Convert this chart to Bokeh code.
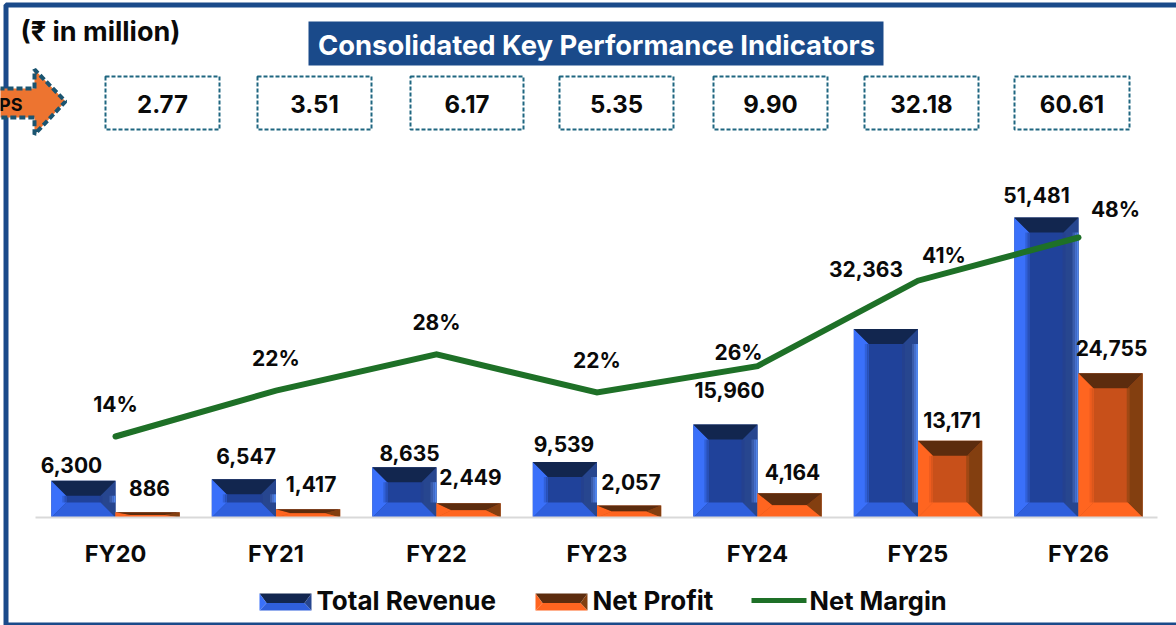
from bokeh.plotting import figure
from bokeh.models import Range1d, FixedTicker, BoxAnnotation, PolyAnnotation, Label
from bokeh.core.properties import value
from bokeh.embed import file_html
from bokeh.resources import INLINE

categories = ["FY20", "FY21", "FY22", "FY23", "FY24", "FY25", "FY26"]
eps = ["2.77", "3.51", "6.17", "5.35", "9.90", "32.18", "60.61"]
revenue = [6300, 6547, 8635, 9539, 15960, 32363, 51481]
profit = [886, 1417, 2449, 2057, 4164, 13171, 24755]
margin = [14.06, 21.9, 28.1, 21.6, 26.1, 40.7, 48.09]
margin_labels = ["14%", "22%", "28%", "22%", "26%", "41%", "48%"]

FONT = "Inter"
W, H = 1176, 625
BASE_Y = 517
STEP = 160.5
X0 = 115
PX_PER_UNIT = 300 / 51481
PX_PER_PCT = 5.848

xr = Range1d((0 - X0) / STEP, (W - X0) / STEP)
yr = Range1d(-(H - BASE_Y) / PX_PER_UNIT, BASE_Y / PX_PER_UNIT)
p = figure(width=W, height=H, x_range=xr, y_range=yr, output_backend="svg", toolbar_location=None,
           min_border=0, x_axis_location="below", y_axis_location=None)
p.styles = {"position": "absolute", "left": "0px", "top": "0px"}
p.outline_line_color = None
p.grid.visible = False
p.extra_y_ranges = {"pct": Range1d(14.06 - (H - 436) / PX_PER_PCT, 14.06 + 436 / PX_PER_PCT)}

ax = p.xaxis[0]
ax.fixed_location = 0
ax.bounds = ((35 - X0) / STEP, (1157 - X0) / STEP)
ax.ticker = FixedTicker(ticks=list(range(len(categories))))
ax.major_label_overrides = {i: c for i, c in enumerate(categories)}
ax.major_tick_line_color = None
ax.minor_tick_line_color = None
ax.axis_line_color = "#d9d9d9"
ax.axis_line_width = 2
ax.major_label_standoff = 15
ax.major_label_text_font = FONT
ax.major_label_text_font_style = "bold"
ax.major_label_text_font_size = "23.5px"
ax.major_label_text_color = "#0a0a0a"

BLUE = dict(top="#12264f", left="#3a70fa", right="#27468f", bottom="#2f5fdc", center="#20429a",
            edge=["#4f84ea", "#466fcb", "#3a5cab"], left_fade=["#3060d8", "#2850b8"], right_fade=["#24418f"])
ORANGE = dict(top="#5c2c0e", left="#ff6520", right="#833f10", bottom="#ff6520", center="#c8501a",
              edge=[], left_fade=["#ee5c1e", "#db561c"], right_fade=["#a04814"])
BEV = 15
HALF = 64.2 / STEP


def bevel(i, off, val, c):
    """Bevelled bar drawn from its value through the data scales."""
    x1 = i + off
    x2 = x1 + HALF
    mx = BEV / STEP
    hpx = val * PX_PER_UNIT
    my = min(BEV, hpx / 2) / PX_PER_UNIT
    xs = [[x1, x1 + mx, x1 + mx, x1], [x2, x2 - mx, x2 - mx, x2]]
    ys = [[val, val - my, my, 0], [val, val - my, my, 0]]
    p.quad(left=x1, right=x2, bottom=0, top=val, fill_color=c["center"], line_color=None)
    p.patches(xs, ys, fill_color=[c["left"], c["right"]], line_color=None)
    px = 1 / STEP
    for k, col in enumerate(c["left_fade"]):
        p.quad(left=x1 + mx - 4 * px + 2 * k * px, right=x1 + mx - 2 * px + 2 * k * px, bottom=my, top=val - my,
               fill_color=col, line_color=None)
    for k, col in enumerate(c["right_fade"]):
        p.quad(left=x2 - mx + k * 2 * px - 1 * px, right=x2 - mx + k * 2 * px + 2 * px, bottom=my, top=val - my,
               fill_color=col, line_color=None)
    for k, col in enumerate(c["edge"]):
        p.quad(left=x2 - (k + 1) * 2 * px, right=x2 - k * 2 * px, bottom=my, top=val - my,
               fill_color=col, line_color=None)
    p.patch([x1, x2, x2 - mx, x1 + mx], [val, val, val - my, val - my], fill_color=c["top"], line_color=None)
    p.patch([x1, x1 + mx, x2 - mx, x2], [0, my, my, 0], fill_color=c["bottom"], line_color=None)


for i in range(len(categories)):
    bevel(i, -HALF, revenue[i], BLUE)
    bevel(i, 0, profit[i], ORANGE)

xs = list(range(len(categories)))
p.line(xs, margin, y_range_name="pct", line_color="#1e7027", line_width=6, line_join="miter", line_cap="round")

rev_dx = [-44, -30, -27, -33, -28, -52, -42]
rev_dy = [-16, -23, -14, -18, -34, -60, -23]
pro_dx = [34, 35, 34, 34, 35, 34, 33]
pro_dy = [-24, -25, -26, -24, -21, -21, -25]
mar_dx = [0, 0, 0, 0, -19, 26, 37]
mar_dy = [-32, -32, -32, -32, -14, -25, -28]


def labels(x, y, texts, dx, dy, **kw):
    p.text(x, y, text=texts, x_offset=dx, y_offset=dy, text_align="center", text_baseline="middle",
           text_font=value(FONT), text_font_style="bold", text_font_size="21px", text_color="#0a0a0a", **kw)


labels(xs, revenue, [f"{v:,}" for v in revenue], rev_dx, rev_dy)
labels(xs, profit, [f"{v:,}" for v in profit], pro_dx, pro_dy)
labels(xs, margin, margin_labels, mar_dx, mar_dy, y_range_name="pct")


# Screen units of annotations run from the frame's lower-left corner (the frame fills the canvas).
def sy(y):
    return H - y


def scr_box(l, r, t, b, **kw):
    p.add_layout(BoxAnnotation(left=l, right=r, top=sy(t), bottom=sy(b), left_units="screen", right_units="screen",
                               top_units="screen", bottom_units="screen", level="overlay", line_alpha=1, **kw))


def scr_text(x, y, t, size, color="#0a0a0a", align="center"):
    p.add_layout(Label(x=x, y=sy(y), x_units="screen", y_units="screen", text=t, text_align=align,
                       text_baseline="middle", text_font=FONT, text_font_style="bold",
                       text_font_size=f"{size}px", text_color=color, level="overlay"))


def scr_poly(xp, yp, **kw):
    p.add_layout(PolyAnnotation(xs=list(xp), ys=[sy(v) for v in yp], xs_units="screen", ys_units="screen",
                                level="overlay", line_alpha=1, **kw))


NAVY = "#1a4a8a"
scr_box(5.5, 1200, 4.5, 624.5, fill_color=None, fill_alpha=0, line_color=NAVY, line_width=5)
scr_box(308, 883, 21, 65, fill_color=NAVY, fill_alpha=1, line_color=None)
scr_text(596, 44, "Consolidated Key Performance Indicators", 27.4, "white")
scr_text(20, 31, "(₹ in million)", 27, align="left")

scr_poly([-20, 34, 34, 65, 34, 34, -20], [88, 88, 69, 101, 134, 117, 117], fill_color="#ed7430", fill_alpha=1,
         line_color="#1a5470", line_width=4, line_dash="6 3")
scr_text(22, 104, "EPS", 18, align="right")

box_x = [(105, 219), (257, 371), (410, 523), (559, 673), (713, 827), (864, 978), (1014, 1129)]
for (l, r), t in zip(box_x, eps):
    scr_box(l, r, 76, 129, fill_color="white", fill_alpha=1, line_color="#1f6680", line_width=2, line_dash="4 2")
    scr_text((l + r) / 2, 103.5, t, 24)


def swatch(l, r, t, b, c):
    m = 7
    mid = (t + b) / 2 + 1
    scr_poly([l, r, r - m, l + m], [t, t, mid, mid], fill_color=c["top"], fill_alpha=1, line_color=None)
    scr_poly([l, l + m, r - m, r], [b, mid, mid, b], fill_color=c["bottom"], fill_alpha=1, line_color=None)
    scr_poly([r, r - m, r], [t, mid, b], fill_color=c["right"], fill_alpha=1, line_color=None)
    scr_poly([l, l + m, l], [t, mid, b], fill_color=c["left"], fill_alpha=1, line_color=None)


swatch(259, 311, 593, 610, BLUE)
swatch(535, 587, 593, 610, ORANGE)
scr_box(751, 806, 597.5, 602.5, fill_color="#1e7027", fill_alpha=1, line_color=None)
scr_text(316, 600, "Total Revenue", 26, align="left")
scr_text(592, 600, "Net Profit", 26, align="left")
scr_text(809, 600, "Net Margin", 25.5, align="left")

open("out.html", "w").write(file_html(p, INLINE))
